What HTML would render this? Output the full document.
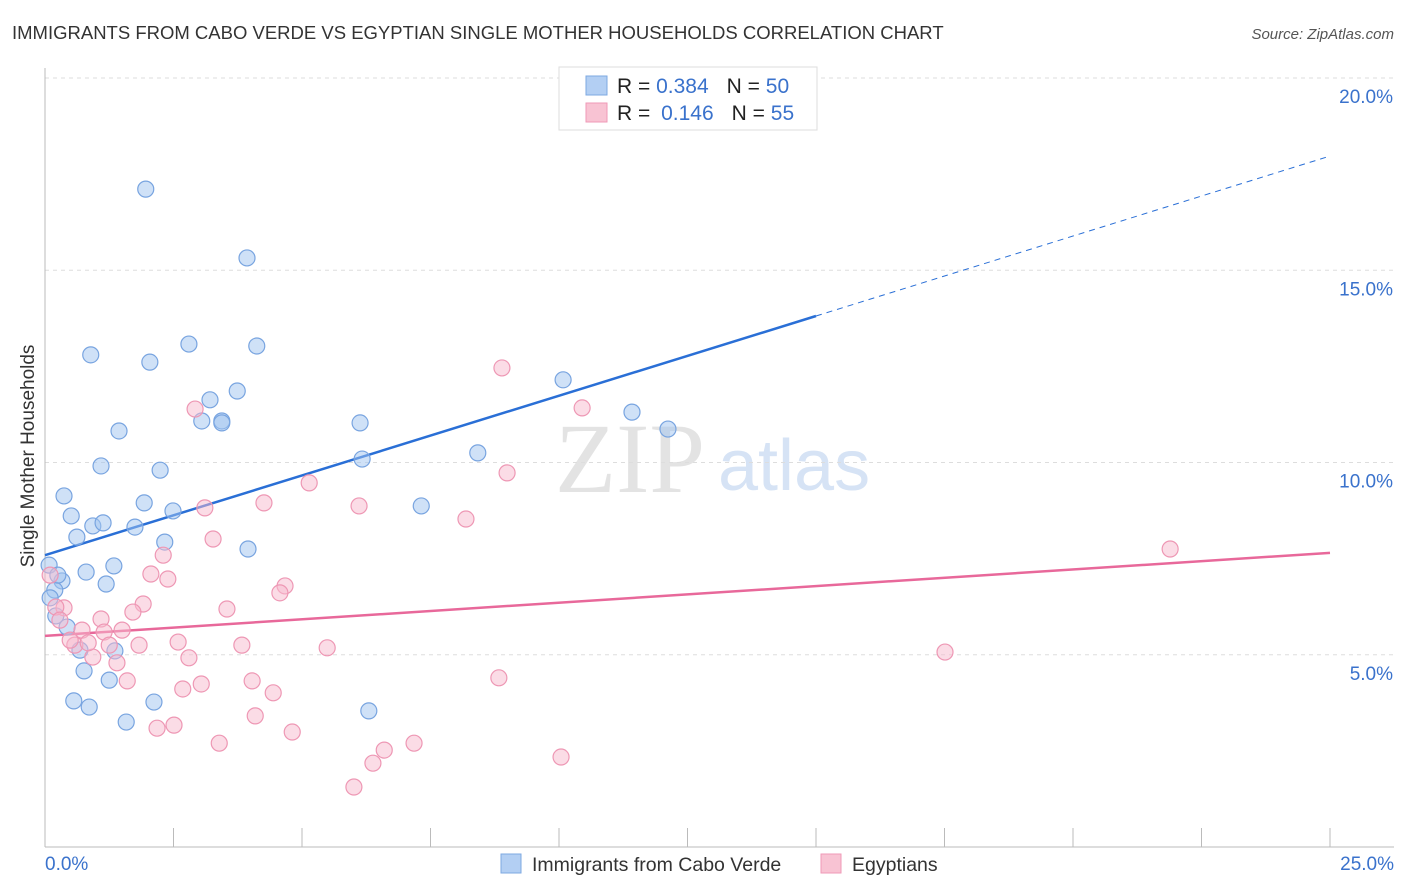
<!DOCTYPE html>
<html><head><meta charset="utf-8"><style>
body{margin:0;background:#fff;font-family:"Liberation Sans",sans-serif;}
svg{display:block}
</style></head><body>
<svg id="chart" width="1406" height="892">
<text x="12" y="39" font-size="18.5" fill="#333">IMMIGRANTS FROM CABO VERDE VS EGYPTIAN SINGLE MOTHER HOUSEHOLDS CORRELATION CHART</text>
<text x="1394" y="39" font-size="15" fill="#555" font-style="italic" text-anchor="end">Source: ZipAtlas.com</text>
<text x="34" y="456" font-size="19" fill="#333" text-anchor="middle" transform="rotate(-90 34 456)">Single Mother Households</text>
<text x="555" y="492" font-size="100" fill="#e3e3e3" font-family="Liberation Serif,serif">ZIP</text>
<text x="718" y="490" font-size="72" fill="#d6e3f5">atlas</text>
<g id="grid"></g><g id="axes"></g><g id="lines"></g><g id="pts"></g>
<g>
<rect x="559" y="67" width="258" height="63" fill="#fff" stroke="#ddd"/>
<rect x="586" y="76" width="21" height="19" fill="#b3cff3" stroke="#7ea8e2"/>
<rect x="586" y="103" width="21" height="19" fill="#f8c3d3" stroke="#ef9ab7"/>
<text x="617" y="93" font-size="21" fill="#222">R = <tspan fill="#3a72cc">0.384</tspan><tspan dx="18">N = </tspan><tspan fill="#3a72cc">50</tspan></text>
<text x="617" y="120" font-size="21" fill="#222">R = <tspan fill="#3a72cc" dx="5">0.146</tspan><tspan dx="18">N = </tspan><tspan fill="#3a72cc">55</tspan></text>
</g>
<g>
<rect x="501" y="854" width="20" height="19" fill="#b3cff3" stroke="#7ea8e2"/>
<text x="532" y="871" font-size="19.5" fill="#333">Immigrants from Cabo Verde</text>
<rect x="821" y="854" width="20" height="19" fill="#f8c3d3" stroke="#ef9ab7"/>
<text x="852" y="871" font-size="19.5" fill="#333">Egyptians</text>
</g>
</svg>
<script>
const yTicks=[5,10,15,20];
const xLabels=["0.0%","25.0%"];
const blueX=[1.96,3.93,0.89,2.04,2.80,4.12,3.74,3.21,3.05,3.44,3.44,1.44,6.13,10.08,11.42,12.12,1.09,2.24,8.42,6.17,0.37,1.93,2.49,7.32,0.51,0.93,1.13,1.75,0.62,2.33,3.95,1.34,0.80,0.08,0.33,1.19,0.19,0.10,0.21,0.43,0.68,1.36,0.76,1.25,0.56,0.86,2.12,1.58,6.30,0.25];
const blueY=[17.11,15.32,12.80,12.61,13.08,13.03,11.86,11.63,11.08,11.08,11.03,10.82,11.03,12.15,11.31,10.87,9.91,9.80,10.25,10.09,9.13,8.95,8.74,8.87,8.61,8.35,8.43,8.32,8.06,7.93,7.75,7.31,7.15,7.33,6.92,6.84,6.68,6.48,6.01,5.72,5.12,5.10,4.58,4.34,3.80,3.64,3.77,3.25,3.54,7.07];
const pinkX=[8.89,2.92,10.45,8.99,5.14,4.26,3.11,6.11,8.19,3.27,2.30,2.06,2.39,4.67,4.57,1.91,3.54,0.37,0.21,1.09,1.71,0.72,1.15,1.50,1.83,1.25,2.59,3.83,0.58,0.93,2.80,1.40,5.49,17.51,21.89,1.60,4.03,2.68,3.04,4.44,8.83,4.09,2.18,2.51,4.81,3.39,7.18,6.60,6.38,10.04,6.01,0.10,0.29,0.49,0.84];
const pinkY=[12.46,11.39,11.42,9.73,9.47,8.95,8.82,8.87,8.53,8.01,7.59,7.10,6.97,6.79,6.61,6.32,6.19,6.22,6.24,5.93,6.11,5.64,5.59,5.64,5.25,5.25,5.33,5.25,5.25,4.94,4.92,4.79,5.18,5.07,7.75,4.32,4.32,4.11,4.24,4.01,4.40,3.41,3.09,3.17,2.99,2.70,2.70,2.52,2.18,2.34,1.56,7.07,5.90,5.38,5.31];
const blueTrend=[7.59,13.81,17.97]; // y at x=0, 15, 25
const pinkTrend=[5.49,7.65]; // y at x=0, 25
const NS="http://www.w3.org/2000/svg";
const sx=v=>45+v/25*1285, sy=v=>847-v*38.45;
function mk(tag,attrs,parent){const e=document.createElementNS(NS,tag);for(const k in attrs)e.setAttribute(k,attrs[k]);document.getElementById(parent).appendChild(e);return e;}
yTicks.forEach(t=>{
 const l=mk('line',{x1:45,x2:1394,y1:sy(t),y2:sy(t),stroke:'#ddd','stroke-dasharray':'4,4'},'grid');
 
 
 const tx=mk('text',{x:1393,y:sy(t)+25,'font-size':19,fill:'#3a72cc','text-anchor':'end'},'grid');
 tx.textContent=t.toFixed(1)+'%';
 
 
});
const ax=mk('line',{x1:45,x2:45,y1:68,y2:847,stroke:'#bbb'},'axes');


const bx=mk('line',{x1:45,x2:1394,y1:847,y2:847,stroke:'#bbb'},'axes');


for(let i=1;i<=10;i++){const t=mk('line',{x1:sx(i*2.5),x2:sx(i*2.5),y1:828,y2:847,stroke:'#bbb'},'axes');
 
 }
[[0,'start',45],[25,'end',1394]].forEach((d,i)=>{const t=mk('text',{x:d[2],y:870,'font-size':19,fill:'#3a72cc','text-anchor':d[1]},'axes');t.textContent=xLabels[i];
 
 });
const b1=mk('line',{x1:sx(0),y1:sy(blueTrend[0]),x2:sx(15),y2:sy(blueTrend[1]),stroke:'#2a6fd6','stroke-width':2.5},'lines');


const b2=mk('line',{x1:sx(15),y1:sy(blueTrend[1]),x2:sx(25),y2:sy(blueTrend[2]),stroke:'#2a6fd6','stroke-width':1,'stroke-dasharray':'6,5'},'lines');


const p1=mk('line',{x1:sx(0),y1:sy(pinkTrend[0]),x2:sx(25),y2:sy(pinkTrend[1]),stroke:'#e8689a','stroke-width':2.5},'lines');


blueX.forEach((x,i)=>{const c=mk('circle',{cx:sx(x),cy:sy(blueY[i]),r:8,fill:'rgba(160,196,240,0.5)',stroke:'#78a4e0','stroke-width':1.2},'pts');
 
 });
pinkX.forEach((x,i)=>{const c=mk('circle',{cx:sx(x),cy:sy(pinkY[i]),r:8,fill:'rgba(248,185,205,0.5)',stroke:'#ee97b4','stroke-width':1.2},'pts');
 
 });
</script>
</body></html>
